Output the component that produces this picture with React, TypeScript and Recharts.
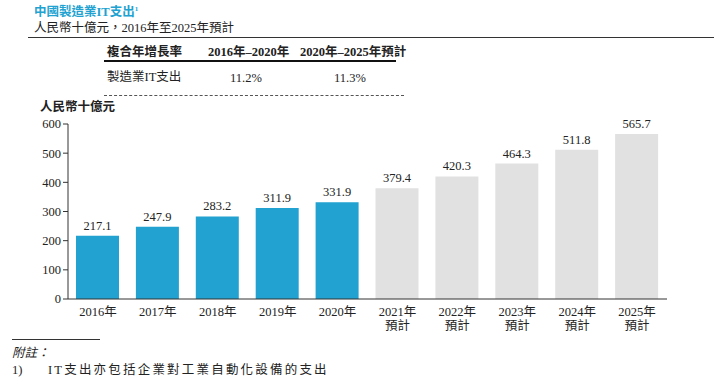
import React from 'react'
import { BarChart, Bar, XAxis, YAxis, Cell, LabelList } from 'recharts'

const years = ['2016年', '2017年', '2018年', '2019年', '2020年', '2021年', '2022年', '2023年', '2024年', '2025年']
const forecast = [false, false, false, false, false, true, true, true, true, true]
const spend = [217.1, 247.9, 283.2, 311.9, 331.9, 379.4, 420.3, 464.3, 511.8, 565.7]
const yTicks = [0, 100, 200, 300, 400, 500, 600]

const FONT = "'Liberation Serif', 'Noto Sans CJK TC', serif"
const BLUE = '#22a2d0'
const GREY = '#e1e1e1'

const data = years.map((y, i) => ({ year: y, value: spend[i], forecast: forecast[i] }))

function YearTick(props: any) {
  const { x, y, payload, index } = props
  const isForecast = forecast[index]
  return (
    <g transform={`translate(${x},${y})`}>
      <text x={0} y={9} textAnchor="middle" fontSize={12.5} fill="#222" fontFamily={FONT}>
        {payload.value}
      </text>
      {isForecast && (
        <text x={0} y={23} textAnchor="middle" fontSize={12.5} fill="#222" fontFamily={FONT}>
          預計
        </text>
      )}
    </g>
  )
}

const txt = (extra: React.CSSProperties): React.CSSProperties => ({
  position: 'absolute',
  fontFamily: FONT,
  fontSize: 12.5,
  color: '#222',
  whiteSpace: 'nowrap',
  lineHeight: 1,
  ...extra,
})

export default function App() {
  return (
    <div style={{ position: 'absolute', left: 0, top: 0, width: 714, height: 379, background: '#fff', overflow: 'hidden' }}>
      <div style={txt({ left: 34, top: 6, color: BLUE, fontWeight: 'bold' })}>
        中國製造業IT支出<sup style={{ fontSize: 7 }}>1</sup>
      </div>
      <div style={txt({ left: 34, top: 22 })}>人民幣十億元，2016年至2025年預計</div>
      <div style={{ position: 'absolute', left: 28, top: 37, width: 690, height: 1, background: '#333' }} />

      <div style={txt({ left: 107, top: 46, fontWeight: 'bold' })}>複合年增長率</div>
      <div style={txt({ left: 208, top: 46, fontWeight: 'bold' })}>2016年–2020年</div>
      <div style={txt({ left: 300, top: 46, fontWeight: 'bold' })}>2020年–2025年預計</div>
      <div style={{ position: 'absolute', left: 104, top: 60, width: 292, height: 2, background: '#111' }} />
      <div style={txt({ left: 107, top: 71 })}>製造業IT支出</div>
      <div style={txt({ left: 230, top: 72 })}>11.2%</div>
      <div style={txt({ left: 334, top: 72 })}>11.3%</div>
      <div style={{ position: 'absolute', left: 104, top: 95, width: 300, height: 0, borderTop: '1px dashed #555' }} />

      <div style={txt({ left: 40, top: 101, fontWeight: 'bold' })}>人民幣十億元</div>

      <div style={{ position: 'absolute', left: 0, top: 0 }}>
        <BarChart width={714} height={379} data={data} margin={{ top: 124, right: 47, bottom: 0, left: 0 }} barSize={43}>
          <XAxis
            dataKey="year"
            tick={<YearTick />}
            tickLine={false}
            axisLine={{ stroke: '#333' }}
            interval={0}
            height={80}
          />
          <YAxis
            domain={[0, 600]}
            ticks={yTicks}
            width={68}
            tick={{ fontSize: 12.5, fill: '#222', fontFamily: FONT }}
            tickLine={{ stroke: '#333' }}
            tickSize={5}
            axisLine={{ stroke: '#333' }}
            interval={0}
          />
          <Bar dataKey="value" isAnimationActive={false}>
            {data.map((d, i) => (
              <Cell key={i} fill={d.forecast ? GREY : BLUE} />
            ))}
            <LabelList dataKey="value" position="top" offset={6} style={{ fontSize: 12.5, fill: '#222', fontFamily: FONT }} formatter={(v: any) => Number(v).toFixed(1)} />
          </Bar>
        </BarChart>
      </div>

      <div style={{ position: 'absolute', left: 12, top: 339, width: 88, height: 1, background: '#333' }} />
      <div style={txt({ left: 12, top: 347, fontStyle: 'italic' })}>附註：</div>
      <div style={txt({ left: 12, top: 364 })}>1)</div>
      <div style={txt({ left: 48, top: 364, letterSpacing: 2.2 })}>IT支出亦包括企業對工業自動化設備的支出</div>
    </div>
  )
}
